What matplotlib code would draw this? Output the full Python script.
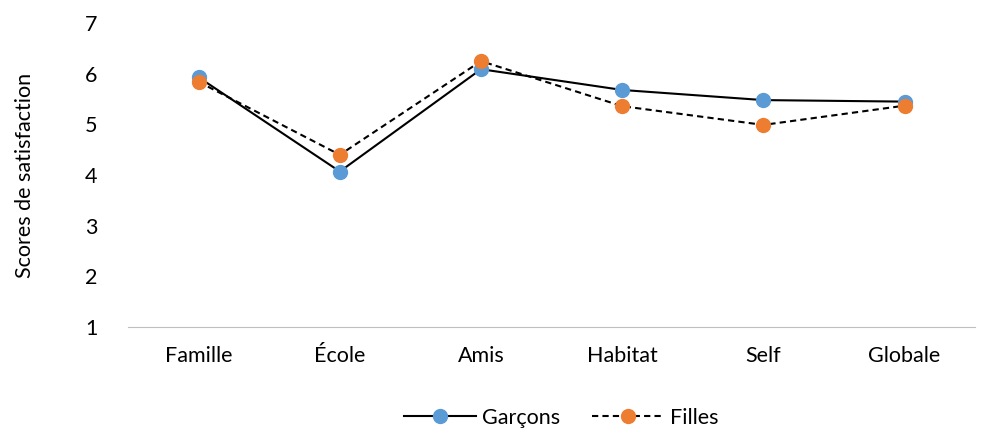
import matplotlib.pyplot as plt

plt.rcParams['font.family'] = ['Lato', 'DejaVu Sans']

categories = ['Famille', 'École', 'Amis', 'Habitat', 'Self', 'Globale']
garcons = [5.93, 4.07, 6.09, 5.68, 5.48, 5.45]
filles = [5.84, 4.40, 6.25, 5.36, 4.99, 5.37]

fig = plt.figure(figsize=(9.85, 4.28), dpi=100)
ax = fig.add_axes([0.130, 0.236, 0.860, 0.710])

x = range(len(categories))
ax.plot(x, garcons, color='black', linewidth=1.5, marker='o', markersize=10,
        markerfacecolor='#5B9BD5', markeredgecolor='#5B9BD5', label='Garçons')
ax.plot(x, filles, color='black', linewidth=1.5, linestyle=(0, (3, 2)), marker='o', markersize=10,
        markerfacecolor='#ED7D31', markeredgecolor='#ED7D31', label='Filles')

ax.set_xlim(-0.5, len(categories) - 0.5)
ax.set_ylim(1, 7)
ax.set_yticks(range(1, 8))
ax.set_xticks(list(x))
ax.set_xticklabels(categories)
ax.tick_params(axis='both', length=0, labelsize=15.5, colors='black')
ax.tick_params(axis='x', pad=14)
ax.tick_params(axis='y', pad=22)
for side in ['top', 'right', 'left']:
    ax.spines[side].set_visible(False)
ax.spines['bottom'].set_color('#BFBFBF')
ax.set_ylabel('Scores de satisfaction', fontsize=15.5, labelpad=36)

fig.legend(loc='lower center', bbox_to_anchor=(0.57, -0.045), ncol=2, frameon=False,
           fontsize=15.5, handlelength=3.3, handletextpad=0.3, columnspacing=1.5)

fig.savefig('out.png', dpi=100)
